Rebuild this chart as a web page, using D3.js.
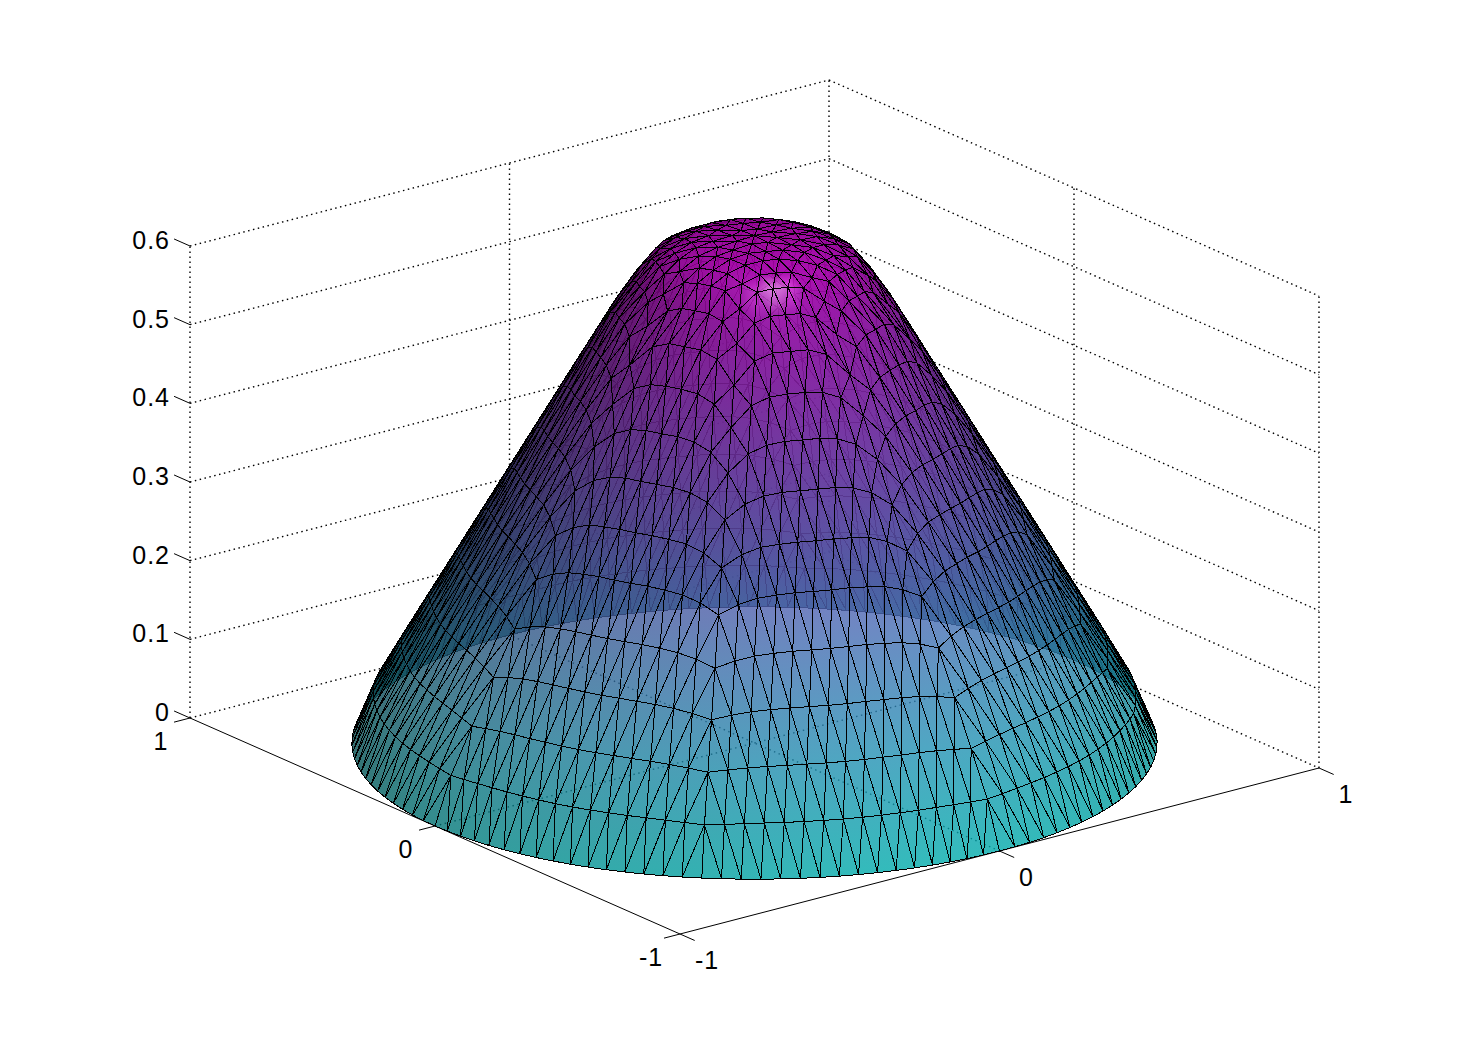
<!DOCTYPE html>
<html><head><meta charset="utf-8">
<script src="https://cdnjs.cloudflare.com/ajax/libs/d3/7.8.5/d3.min.js"></script>
<style>html,body{margin:0;padding:0;background:#fff;overflow:hidden}svg{display:block}
text{font-family:"Liberation Sans",Arial,sans-serif;font-size:25px;fill:#000;letter-spacing:1px}</style>
</head><body><svg id="c" width="1460" height="1047"></svg>
<script>
// ---- values ----
const xTicks = [-1, 0, 1];
const yTicks = [-1, 0, 1];
const zTicks = [0, 0.1, 0.2, 0.3, 0.4, 0.5, 0.6];
const profileR = [0, 0.1, 0.16, 0.2, 0.25, 0.286, 0.35, 0.5, 0.7, 0.9, 0.936, 0.96, 0.98, 1];
const profileZ = [0.645, 0.643, 0.64, 0.633, 0.62, 0.6, 0.5546, 0.431, 0.266, 0.1014, 0.0717, 0.05, 0.03, 0];
const ringRadii = [1, 0.95, 0.884, 0.817, 0.751, 0.683, 0.623, 0.562, 0.502, 0.444, 0.39, 0.335, 0.285, 0.235, 0.175, 0.115, 0.055];
const ringCounts = [16, 15, 14, 13, 12, 11, 10, 9, 8, 7, 6, 6, 5, 4, 3, 2, 1];
const ringDips = [0, 0.004, 0.01, 0.016, 0.022, 0.028, 0.032, 0.036, 0.04, 0.042, 0.042, 0.04, 0.035, 0.03, 0.018, 0.008, 0];
const sectorFlow = ["forward", "backward", "backward", "backward", "backward", "forward", "forward", "forward"];
const sectorShapeT = [0, 0.1, 0.2, 0.35, 0.5, 0.65, 0.8, 0.9, 1];
const sectorShapeV = [0, 0.55, 0.85, 1, 1, 1, 0.85, 0.55, 0];
const coolStops = ["#00ffff", "#ff00ff"];
const faceAlpha = 0.8;

// ---- projection scales ----
const originX = 754.5, originY = 743;
const xFromU = d3.scaleLinear([-1, 1], [-319.5, 319.5]);
const yFromU = d3.scaleLinear([-1, 1], [83, -83]);
const xFromV = d3.scaleLinear([-1, 1], [245, -245]);
const yFromV = d3.scaleLinear([-1, 1], [108, -108]);
const yFromZ = d3.scaleLinear([0, 0.6], [0, -472]);
const project = (u, v, z = 0) => [originX + xFromU(u) + xFromV(v), originY + yFromU(u) + yFromV(v) + yFromZ(z)];
const zOfR = d3.scaleLinear(profileR, profileZ);
const colour = d3.scaleLinear([0, 0.645], coolStops).interpolate(d3.interpolateRgb).clamp(true);
const sectorShape = d3.scaleLinear(sectorShapeT, sectorShapeV);

// ---- lighting ----
const zk = 2.08;
const viewDir = [-0.573, -0.747, 0.337];
const norm = a => { const l = Math.hypot(...a) || 1; return a.map(d => d / l); };
const dot = (a, b) => a[0] * b[0] + a[1] * b[1] + a[2] * b[2];
const lightDir = norm([-0.093, -0.54, 0.838]);
const halfDir = norm([-0.30, -0.58, 0.76]);
const ambient = 0.24, diffuse = 0.52, specular = 0.55, shininess = 110;

// ---- mesh ----
const vertices = [];
const addVertex = (r, angle) => {
  const z = zOfR(r);
  vertices.push({ u: r * Math.cos(angle), v: r * Math.sin(angle), z, n: [0, 0, 0] });
  return vertices.length - 1;
};
const sectors = sectorFlow.length;
const rings = ringRadii.map((seamR, k) => {
  const perSector = ringCounts[k], ids = [];
  for (let s = 0; s < sectors; s++) for (let j = 0; j < perSector; j++) {
    const t = j / perSector;
    const r = seamR - ringDips[k] * sectorShape(t);
    ids.push(addVertex(r, (s + t) * 2 * Math.PI / sectors));
  }
  return ids;
});
const centre = addVertex(0, 0);
const triangles = [];
rings.forEach((outer, k) => {
  const a = ringCounts[k];
  if (k === rings.length - 1) {
    outer.forEach((id, i) => triangles.push([id, outer[(i + 1) % outer.length], centre]));
    return;
  }
  const inner = rings[k + 1], b = ringCounts[k + 1];
  const O = (s, i) => outer[(s * a + i) % outer.length];
  const I = (s, j) => inner[(s * b + j) % inner.length];
  sectorFlow.forEach((flow, s) => {
    const extra = a - b;
    if (flow === "forward") {
      for (let j = 0; j < b; j++) {
        triangles.push([O(s, j), O(s, j + 1), I(s, j)]);
        triangles.push([O(s, j + 1), I(s, j + 1), I(s, j)]);
      }
      for (let i = b; i < a; i++) triangles.push([O(s, i), O(s, i + 1), I(s, b)]);
    } else {
      for (let i = 0; i < extra; i++) triangles.push([O(s, i), O(s, i + 1), I(s, 0)]);
      for (let j = 0; j < b; j++) {
        const i = j + extra;
        triangles.push([O(s, i), I(s, j + 1), I(s, j)]);
        triangles.push([O(s, i), O(s, i + 1), I(s, j + 1)]);
      }
    }
  });
});
const world = v => [v.u, v.v, v.z * zk];
const sub = (a, b) => a.map((d, i) => d - b[i]);
const cross = (a, b) => [a[1] * b[2] - a[2] * b[1], a[2] * b[0] - a[0] * b[2], a[0] * b[1] - a[1] * b[0]];
const faces = triangles.map(t => {
  const [A, B, C] = t.map(i => world(vertices[i]));
  let fn = cross(sub(B, A), sub(C, A));
  if (fn[2] < 0) fn = fn.map(d => -d);
  t.forEach(i => vertices[i].n = vertices[i].n.map((d, c) => d + fn[c]));
  const mid = [0, 1, 2].map(c => (A[c] + B[c] + C[c]) / 3);
  return { t, fn, depth: dot(mid, viewDir) };
});
vertices.forEach(v => v.n = norm(v.n));
faces.sort((a, b) => a.depth - b.depth);

const shade = (v, back) => {
  const n = back ? v.n.map(d => -d) : v.n;
  const L = ambient + diffuse * Math.max(0, dot(n, lightDir));
  const s = specular * Math.pow(Math.max(0, dot(n, halfDir)), shininess);
  const c = d3.rgb(colour(v.z));
  return [c.r, c.g, c.b].map(d => Math.min(255, d * L + 255 * s));
};
const css = c => `rgb(${c.map(d => Math.round(d)).join(",")})`;

// ---- drawing ----
const svg = d3.select("#c");
const defs = svg.append("defs");
const line = d3.line();
const seg = (a, b) => line([project(...a), project(...b)]);

// dotted box and grid
const gridSegs = [];
zTicks.forEach(z => { gridSegs.push([[-1, 1, z], [1, 1, z]], [[1, 1, z], [1, -1, z]]); });
xTicks.forEach(x => { gridSegs.push([[x, 1, 0], [x, 1, 0.6]]); if (x !== -1 && x !== 1) gridSegs.push([[x, -1, 0], [x, 1, 0]]); });
yTicks.forEach(y => { if (y !== 1) gridSegs.push([[1, y, 0], [1, y, 0.6]]); if (y !== -1 && y !== 1) gridSegs.push([[-1, y, 0], [1, y, 0]]); });
svg.append("g").selectAll("path").data(gridSegs).join("path")
  .attr("d", d => seg(d[0], d[1])).attr("fill", "none").attr("stroke", "#000")
  .attr("stroke-width", 1.4).attr("stroke-dasharray", "1.5 3.5");

// solid axes with ticks
const axisSegs = [[[-1, -1, 0], [1, -1, 0]], [[-1, -1, 0], [-1, 1, 0]]];
xTicks.forEach(x => axisSegs.push([[x, -1, 0], [x, -1.06, 0]]));
yTicks.forEach(y => axisSegs.push([[-1, y, 0], [-1.05, y, 0]]));
zTicks.forEach(z => axisSegs.push([[-1, 1, z], [-1, 1.065, z]]));
svg.append("g").selectAll("path").data(axisSegs).join("path")
  .attr("d", d => seg(d[0], d[1])).attr("fill", "none").attr("stroke", "#000").attr("stroke-width", 1);

// surface
const g = svg.append("g");
faces.forEach((f, idx) => {
  const vs = f.t.map(i => vertices[i]);
  const pts = vs.map(v => project(v.u, v.v, v.z));
  const back = dot(f.fn, viewDir) < 0;
  const cols = vs.map(v => shade(v, back));
  let A = 0, B = 1, best = -1;
  [[0, 1], [0, 2], [1, 2]].forEach(([p, q]) => {
    const d = Math.hypot(...sub(cols[p], cols[q]));
    if (d > best) { best = d; A = p; B = q; }
  });
  const path = line(pts) + "Z";
  let fill;
  if (best < 2) fill = css(cols[0]);
  else {
    const C = 3 - A - B;
    const axis = sub(cols[B], cols[A]);
    const tc = Math.min(1, Math.max(0, dot(sub(cols[C], cols[A]), axis) / dot(axis, axis)));
    const e1 = [pts[B][0] - pts[A][0], pts[B][1] - pts[A][1]], e2 = [pts[C][0] - pts[A][0], pts[C][1] - pts[A][1]];
    const det = e1[0] * e2[1] - e1[1] * e2[0];
    const gx = (e2[1] - tc * e1[1]) / det, gy = (tc * e1[0] - e2[0]) / det;
    const gg = gx * gx + gy * gy;
    const id = "t" + idx;
    const lg = defs.append("linearGradient").attr("id", id).attr("gradientUnits", "userSpaceOnUse")
      .attr("x1", pts[A][0]).attr("y1", pts[A][1]).attr("x2", pts[A][0] + gx / gg).attr("y2", pts[A][1] + gy / gg);
    lg.append("stop").attr("offset", 0).attr("stop-color", css(cols[A]));
    lg.append("stop").attr("offset", 1).attr("stop-color", css(cols[B]));
    fill = `url(#${id})`;
  }
  g.append("path").attr("d", path).attr("fill", fill).attr("fill-opacity", faceAlpha)
    .attr("stroke", "#000").attr("stroke-width", 1).attr("stroke-linejoin", "round")
    .attr("shape-rendering", "crispEdges");
});

// tick labels
const labels = svg.append("g");
const put = (data, pos, anchor) => labels.append("g").selectAll("text").data(data).join("text")
  .attr("x", d => pos(d)[0]).attr("y", d => pos(d)[1]).attr("text-anchor", anchor).text(d => d);
put(zTicks, z => { const p = project(-1, 1, z); return [p[0] - 20, p[1] + 3]; }, "end");
put(yTicks, y => { const p = project(-1, y, 0); return [p[0] - 29, p[1] + 32]; }, "middle");
put(xTicks, x => { const p = project(x, -1, 0); return [p[0] + 27, p[1] + 35]; }, "middle");
</script></body></html>
